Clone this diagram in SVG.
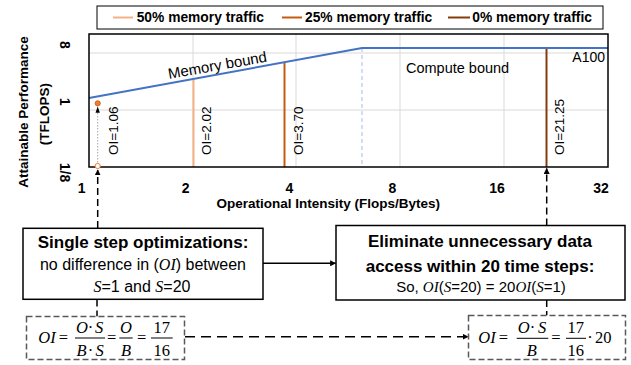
<svg xmlns="http://www.w3.org/2000/svg" width="631" height="365" viewBox="0 0 631 365">
  <style>
    .sans { font-family: "Liberation Sans", Arial, sans-serif; fill: #000; }
    .b { font-weight: bold; }
    .tick { font-family: "Liberation Sans", Arial, sans-serif; font-weight: bold; font-size: 14px; fill: #000; text-anchor: middle; }
    .axt { font-family: "Liberation Sans", Arial, sans-serif; font-weight: bold; font-size: 13.5px; fill: #000; text-anchor: middle; }
    .leg { font-family: "Liberation Sans", Arial, sans-serif; font-weight: bold; font-size: 13.8px; fill: #000; }
    .oi { font-family: "Liberation Sans", Arial, sans-serif; font-size: 13.5px; fill: #000; }
    .grid { stroke: #D9D9D9; stroke-width: 1; fill: none; }
    .box { fill: #fff; stroke: #000; stroke-width: 1.5; }
    .ebox { fill: #fff; stroke: #595959; stroke-width: 1.5; stroke-dasharray: 6 3; }
    .math { font-family: "Liberation Serif", "Times New Roman", serif; font-size: 16.5px; fill: #000; }
    .mi { font-style: italic; }
    .mid { text-anchor: middle; }
    .fbar { stroke: #000; stroke-width: 1; }
    .dash { fill: none; stroke: #000; stroke-width: 1.5; stroke-dasharray: 7 4; }
    .dashl { fill: none; stroke: #000; stroke-width: 1.5; stroke-dasharray: 10 6; }
    .solid { fill: none; stroke: #000; stroke-width: 1.5; }
    .it { font-family: "Liberation Serif", "Times New Roman", serif; font-style: italic; }
  </style>
  <defs>
    <marker id="arr" viewBox="0 0 10 10" refX="9" refY="5" markerWidth="6" markerHeight="6" markerUnits="userSpaceOnUse" orient="auto">
      <path d="M0,0 L10,5 L0,10 Z" fill="#000"/>
    </marker>
  </defs>

  <!-- Legend -->
  <g id="legend">
    <rect x="97" y="6" width="506" height="23" fill="#fff" stroke="#000" stroke-width="1"/>
    <line x1="113" y1="17.5" x2="133" y2="17.5" stroke="#F4B183" stroke-width="2"/>
    <text class="leg" x="136.7" y="21.5">50% memory traffic</text>
    <line x1="282" y1="17.5" x2="302" y2="17.5" stroke="#C55A11" stroke-width="2"/>
    <text class="leg" x="305" y="21.5">25% memory traffic</text>
    <line x1="448" y1="17.5" x2="470" y2="17.5" stroke="#843C0C" stroke-width="2"/>
    <text class="leg" x="472.3" y="21.5">0% memory traffic</text>
  </g>

  <!-- Roofline chart -->
  <g id="chart">
    <rect x="89" y="34" width="519" height="133" fill="#fff"/>
    <line class="grid" x1="193" y1="34" x2="193" y2="167"/>
    <line class="grid" x1="296" y1="34" x2="296" y2="167"/>
    <line class="grid" x1="400" y1="34" x2="400" y2="167"/>
    <line class="grid" x1="504" y1="34" x2="504" y2="167"/>
    <line class="grid" x1="89" y1="53" x2="608" y2="53"/>
    <line class="grid" x1="89" y1="110" x2="608" y2="110"/>
    <line x1="362" y1="48" x2="362" y2="167" stroke="#B4C7E7" stroke-width="1.2" stroke-dasharray="4 3"/>
    <line x1="193.5" y1="80" x2="193.5" y2="167" stroke="#F4B183" stroke-width="2"/>
    <line x1="284.5" y1="63" x2="284.5" y2="167" stroke="#C55A11" stroke-width="2"/>
    <line x1="546.5" y1="48" x2="546.5" y2="167" stroke="#843C0C" stroke-width="2"/>
    <polyline points="89,98 362,48 608,48" fill="none" stroke="#4472C4" stroke-width="2"/>
    <rect x="89" y="34" width="519" height="133" fill="none" stroke="#000" stroke-width="1.5"/>
    <line x1="97.7" y1="113" x2="97.7" y2="164" stroke="#A6A6A6" stroke-width="1" stroke-dasharray="1.5 1.5"/>
    <path d="M97.7,106.5 L95.5,112.8 L99.9,112.8 Z" fill="#000"/>
    <circle cx="97.7" cy="103.3" r="2.6" fill="#ED7D31" stroke="#C55A11" stroke-width="0.8"/>
    <circle cx="97.7" cy="166" r="2.6" fill="#fff" stroke="#ED7D31" stroke-width="1"/>
    <text class="sans" font-size="15" transform="translate(169,79) rotate(-10)">Memory bound</text>
    <text class="sans" font-size="14.5" x="406" y="73">Compute bound</text>
    <text class="sans" font-size="14" x="605" y="62" text-anchor="end">A100</text>
    <text class="oi" transform="translate(118.3,155) rotate(-90)">OI=1.06</text>
    <text class="oi" transform="translate(211,155) rotate(-90)">OI=2.02</text>
    <text class="oi" transform="translate(303,155) rotate(-90)">OI=3.70</text>
    <text class="oi" transform="translate(563.5,155) rotate(-90)">OI=21.25</text>
    <text class="tick" transform="translate(60,45) rotate(90)">8</text>
    <text class="tick" transform="translate(60,101.7) rotate(90)">1</text>
    <text class="tick" transform="translate(60,172.5) rotate(90)">1/8</text>
    <text class="tick" x="81.7" y="192.5">1</text>
    <text class="tick" x="185.7" y="192.5">2</text>
    <text class="tick" x="289.5" y="192.5">4</text>
    <text class="tick" x="392.3" y="192.5">8</text>
    <text class="tick" x="497" y="192.5">16</text>
    <text class="tick" x="601" y="192.5">32</text>
    <text class="axt" x="328.3" y="208">Operational Intensity (Flops/Bytes)</text>
    <text class="axt" transform="translate(28.3,112) rotate(-90)">Attainable Performance</text>
    <text class="axt" transform="translate(48.5,114) rotate(-90)">(TFLOPS)</text>
  </g>

  <!-- Connectors -->
  <g id="connectors">
    <path class="dash" d="M97.7,228 L97.7,170" marker-end="url(#arr)"/>
    <path class="dash" d="M546.7,225.5 L546.7,168.5" marker-end="url(#arr)"/>
    <path class="dash" d="M97,299.5 L97,316.5"/>
    <path class="dash" d="M546.7,300 L546.7,315.5"/>
    <path class="solid" d="M263,263.3 L335.5,263.3" marker-end="url(#arr)"/>
    <path class="dashl" d="M185,336.7 L468,336.7" marker-end="url(#arr)"/>
  </g>

  <!-- Single step box -->
  <g id="box-single">
    <rect class="box" x="23" y="228.3" width="240" height="71"/>
    <text class="sans b" font-size="17" x="143" y="248.3" text-anchor="middle">Single step optimizations:</text>
    <text class="sans" font-size="16" x="143" y="270" text-anchor="middle">no difference in (<tspan class="it">OI</tspan>) between</text>
    <text class="sans" font-size="16" x="142" y="291.7" text-anchor="middle"><tspan class="it">S</tspan>=1 and <tspan class="it">S</tspan>=20</text>
  </g>

  <!-- Eliminate box -->
  <g id="box-eliminate">
    <rect class="box" x="336" y="225.5" width="289" height="74.5"/>
    <text class="sans b" font-size="17" x="480" y="247" text-anchor="middle">Eliminate unnecessary data</text>
    <text class="sans b" font-size="17" x="480" y="271.5" text-anchor="middle">access within 20 time steps:</text>
    <text class="sans" font-size="15" x="481" y="291.7" text-anchor="middle">So, <tspan class="it">OI</tspan>(<tspan class="it">S</tspan>=20) = 20<tspan class="it">OI</tspan>(<tspan class="it">S</tspan>=1)</text>
  </g>

  <!-- Left equation -->
  <g id="eq-left">
    <rect class="ebox" x="26.5" y="316.5" width="158" height="43"/>
    <text class="math mi" x="38.3" y="343">OI</text>
    <text class="math mid" x="63.3" y="343">=</text>
    <text class="math mi mid" x="82" y="332.5">O</text>
    <text class="math mid" x="90.5" y="332.5">·</text>
    <text class="math mi mid" x="99" y="332.5">S</text>
    <line class="fbar" x1="75" y1="338" x2="105" y2="338"/>
    <text class="math mi mid" x="81.5" y="356">B</text>
    <text class="math mid" x="90.5" y="356">·</text>
    <text class="math mi mid" x="99.5" y="356">S</text>
    <text class="math mid" x="111.7" y="343">=</text>
    <text class="math mi mid" x="126" y="332.5">O</text>
    <line class="fbar" x1="119.3" y1="338" x2="132.7" y2="338"/>
    <text class="math mi mid" x="126" y="356">B</text>
    <text class="math mid" x="141.7" y="343">=</text>
    <text class="math mid" x="161.7" y="332.5">17</text>
    <line class="fbar" x1="151" y1="338" x2="172.7" y2="338"/>
    <text class="math mid" x="161.7" y="356">16</text>
  </g>

  <!-- Right equation -->
  <g id="eq-right">
    <rect class="ebox" x="468.5" y="315.5" width="157" height="44"/>
    <text class="math mi" x="478.3" y="343.3">OI</text>
    <text class="math mid" x="503.3" y="343.3">=</text>
    <text class="math mi mid" x="523.7" y="332.7">O</text>
    <text class="math mid" x="532.5" y="332.7">·</text>
    <text class="math mi mid" x="542" y="332.7">S</text>
    <line class="fbar" x1="516.7" y1="338.3" x2="548.3" y2="338.3"/>
    <text class="math mi mid" x="531.7" y="356">B</text>
    <text class="math mid" x="556" y="343.3">=</text>
    <text class="math mid" x="575.8" y="332.7">17</text>
    <line class="fbar" x1="566" y1="338.3" x2="586" y2="338.3"/>
    <text class="math mid" x="575.8" y="356">16</text>
    <text class="math mid" x="590" y="343.3">·</text>
    <text class="math" x="595" y="343.3">20</text>
  </g>
</svg>
